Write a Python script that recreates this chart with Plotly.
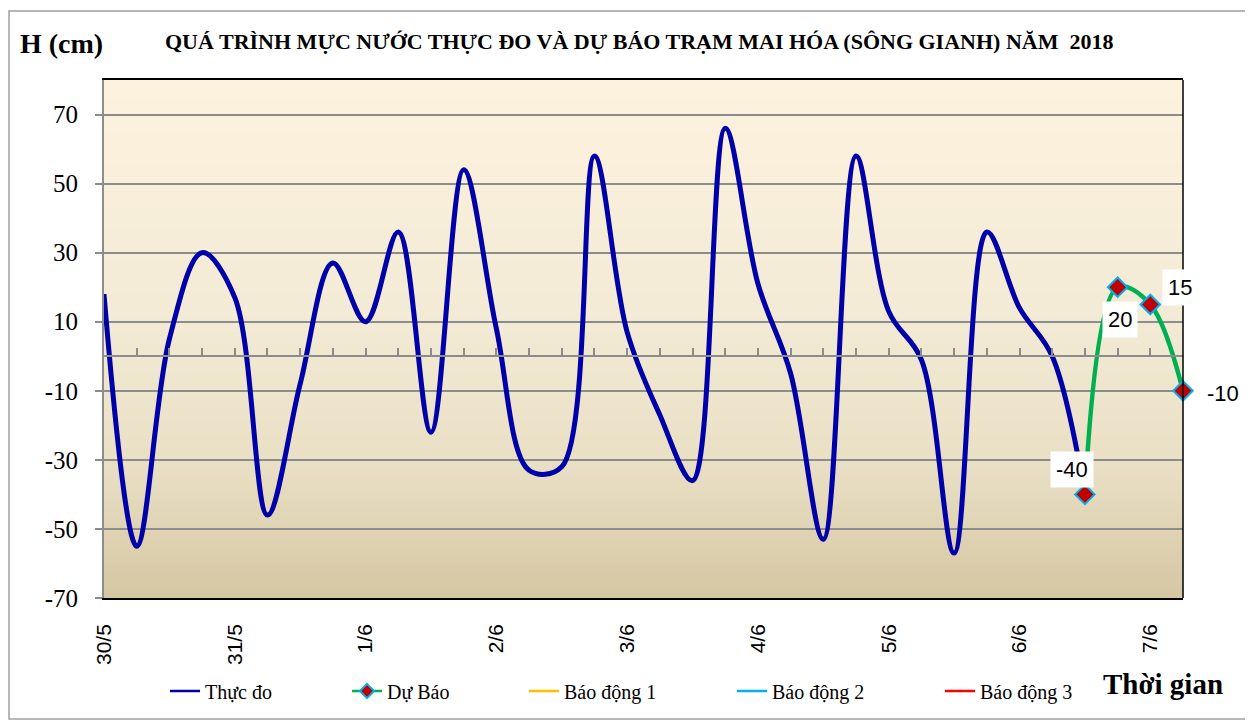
import plotly.graph_objects as go

# ---------------- data ----------------
dates = ["30/5", "31/5", "1/6", "2/6", "3/6", "4/6", "5/6", "6/6", "7/6"]
steps_per_day = 4  # 6-hourly observations
thuc_do = [18, -55, 5, 30, 17, -46, -8, 27, 10, 36, -22, 54, 8, -33, -32, 58,
           7, -17, -36, 66, 21, -5, -53, 58, 13, -1, -57, 36, 14, 0, -40]
du_bao = [-40, 20, 15, -10]
bao_dong_1 = []
bao_dong_2 = []
bao_dong_3 = []

series_names = ["Thực đo", "Dự Báo", "Báo động 1", "Báo động 2", "Báo động 3"]
y_ticks = [-70, -50, -30, -10, 10, 30, 50, 70]

x_obs = list(range(len(thuc_do)))
x_fc = list(range(len(thuc_do) - 1, len(thuc_do) - 1 + len(du_bao)))
n_steps = x_fc[-1]
day_ticks = [i * steps_per_day for i in range(len(dates))]

# ---------------- geometry (page pixels; body has an 8px margin) ----------------
OFF = 8
W, H = 1253 - OFF, 722 - OFF
ml, mt = 104 - OFF, 80 - OFF
mr = W - (1183 - OFF)
mb = H - (598 - OFF)
pw, ph = W - ml - mr, H - mt - mb


def px_x(p):
    return (p - OFF - ml) / pw


def px_y(p):
    return (H - mb - (p - OFF)) / ph


BLUE, GREEN, RED, CYAN = "#0000A8", "#00B050", "#C00000", "#00B0F0"

fig = go.Figure()

# alarm levels (not reached in this period) on the main subplot
for vals, nm, col, lg in [(bao_dong_1, series_names[2], "#FFC000", "legend4"),
                          (bao_dong_2, series_names[3], "#00B0F0", "legend5"),
                          (bao_dong_3, series_names[4], "#FF0000", "legend6")]:
    fig.add_trace(go.Scatter(x=[None] if not vals else list(range(len(vals))),
                             y=[None] if not vals else vals,
                             mode="lines", name=nm, line=dict(color=col, width=2.5),
                             legend=lg, showlegend=True))

# legend keys (thin lines, as in the original legend)
fig.add_trace(go.Scatter(x=[None], y=[None], mode="lines", name=series_names[0],
                         line=dict(color=BLUE, width=2.5), legend="legend2", showlegend=True))
fig.add_trace(go.Scatter(x=[None], y=[None], mode="lines+markers", name=series_names[1],
                         line=dict(color=GREEN, width=2.5),
                         marker=dict(symbol="diamond", size=11, color=RED,
                                     line=dict(color=CYAN, width=2)),
                         legend="legend3", showlegend=True))

fig.add_trace(go.Scatter(x=x_obs, y=thuc_do, mode="lines", name=series_names[0],
                         xaxis="x2", showlegend=False,
                         line=dict(color=BLUE, width=5, shape="spline", smoothing=1),
                         cliponaxis=False))
fig.add_trace(go.Scatter(x=x_fc, y=du_bao, mode="lines+markers", name=series_names[1],
                         xaxis="x2", showlegend=False,
                         line=dict(color=GREEN, width=4.5, shape="spline", smoothing=1),
                         marker=dict(symbol="diamond", size=15, color=RED,
                                     line=dict(color=CYAN, width=2)),
                         cliponaxis=False))

# ---------------- background gradient (plot area) ----------------
stops = [(0.0, (253, 242, 221)), (0.45, (243, 235, 214)), (0.75, (233, 223, 196)), (1.0, (213, 199, 163))]


def grad(t):
    for (t0, c0), (t1, c1) in zip(stops[:-1], stops[1:]):
        if t0 <= t <= t1:
            f = (t - t0) / (t1 - t0)
            return "rgb(%d,%d,%d)" % tuple(round(a + (b - a) * f) for a, b in zip(c0, c1))
    return "rgb(%d,%d,%d)" % stops[-1][1]


shapes = []
nb = 80
for i in range(nb):
    y1 = 1 - i / nb
    y0 = 1 - (i + 1) / nb
    shapes.append(dict(type="rect", xref="x domain", yref="y domain", x0=0, x1=1,
                       y0=y0, y1=min(1, y1 + 0.002), fillcolor=grad((i + 0.5) / nb),
                       line=dict(width=0), layer="below"))
# right border of plot area
shapes.append(dict(type="line", xref="x domain", yref="y domain", x0=1, x1=1, y0=0, y1=1,
                   line=dict(color="black", width=1.5), layer="above"))
# outer chart border
shapes.append(dict(type="rect", xref="paper", yref="paper", x0=px_x(9), x1=px_x(1247),
                   y0=px_y(719), y1=px_y(11), line=dict(color="#A0A0A0", width=1.5),
                   fillcolor="rgba(0,0,0,0)", layer="below"))

# ---------------- annotations ----------------
serif = "Liberation Serif, Times New Roman, serif"
sans = "Liberation Sans, Arial, sans-serif"
annotations = [
    dict(text="<b>QUÁ TRÌNH MỰC NƯỚC THỰC ĐO VÀ DỰ BÁO TRẠM MAI HÓA (SÔNG GIANH) NĂM  2018</b>",
         xref="paper", yref="paper", x=px_x(639), y=px_y(41), showarrow=False,
         font=dict(family=serif, size=22, color="black"), xanchor="center", yanchor="middle"),
    dict(text="<b>H (cm)</b>", xref="paper", yref="paper", x=px_x(61), y=px_y(43),
         showarrow=False, font=dict(family=serif, size=28, color="black"),
         xanchor="center", yanchor="middle"),
    dict(text="<b>Thời gian</b>", xref="paper", yref="paper", x=px_x(1163), y=px_y(684),
         showarrow=False, font=dict(family=serif, size=29, color="black"),
         xanchor="center", yanchor="middle"),
]
label_offsets = [(-13, 25), (2, -32), (30, 17), (40, -3)]
for xv, yv, (dx, dy) in zip(x_fc, du_bao, label_offsets):
    annotations.append(dict(text=str(yv), x=xv, y=yv, xref="x2", yref="y", showarrow=False,
                            xshift=dx, yshift=dy, bgcolor="white", borderpad=5,
                            font=dict(family=sans, size=22, color="black")))

# ---------------- legends ----------------
leg_common = dict(orientation="h", yanchor="middle", xanchor="left", bgcolor="rgba(0,0,0,0)",
                  font=dict(family=serif, size=20, color="black"), itemwidth=30,
                  tracegroupgap=0, visible=True)
legend_text_x = [205, 387, 564, 772, 980]
legend_y = px_y(691)
legend_layouts = {}
for i, tx in enumerate(legend_text_x):
    legend_layouts["legend%d" % (i + 2)] = dict(x=px_x(tx - 40), y=legend_y, **leg_common)

fig.update_layout(
    width=W, height=H,
    margin=dict(l=ml, r=mr, t=mt, b=mb),
    paper_bgcolor="white", plot_bgcolor="#F4ECD7",
    showlegend=True,
    xaxis=dict(range=[0, n_steps], tickmode="array", tickvals=day_ticks, ticktext=dates,
               tickangle=-90, tickfont=dict(family=sans, size=21, color="black"),
               showgrid=False, zeroline=False, showline=True, linecolor="black",
               linewidth=1.5, mirror=True, ticks="", ticklabelstandoff=16),
    xaxis2=dict(range=[0, n_steps], overlaying="x", anchor="free", position=70 / 150,
                tickmode="array", tickvals=list(range(n_steps + 1)), ticks="inside",
                ticklen=7, tickwidth=1.5, tickcolor="#8C8C8C", showticklabels=False,
                showline=True, linecolor="#8C8C8C", linewidth=2, showgrid=False,
                zeroline=False),
    yaxis=dict(range=[-70, 80], tickmode="array", tickvals=y_ticks,
               ticktext=[str(v) for v in y_ticks],
               tickfont=dict(family=serif, size=25, color="black"),
               showgrid=True, gridcolor="#8C8C8C", gridwidth=1.5, zeroline=False,
               showline=True, linecolor="#8C8C8C", linewidth=2, ticks="outside",
               ticklen=7, tickcolor="#8C8C8C", tickwidth=1.5, ticklabelstandoff=12),
    shapes=shapes,
    annotations=annotations,
    **legend_layouts,
)

fig.write_html("out.html")
